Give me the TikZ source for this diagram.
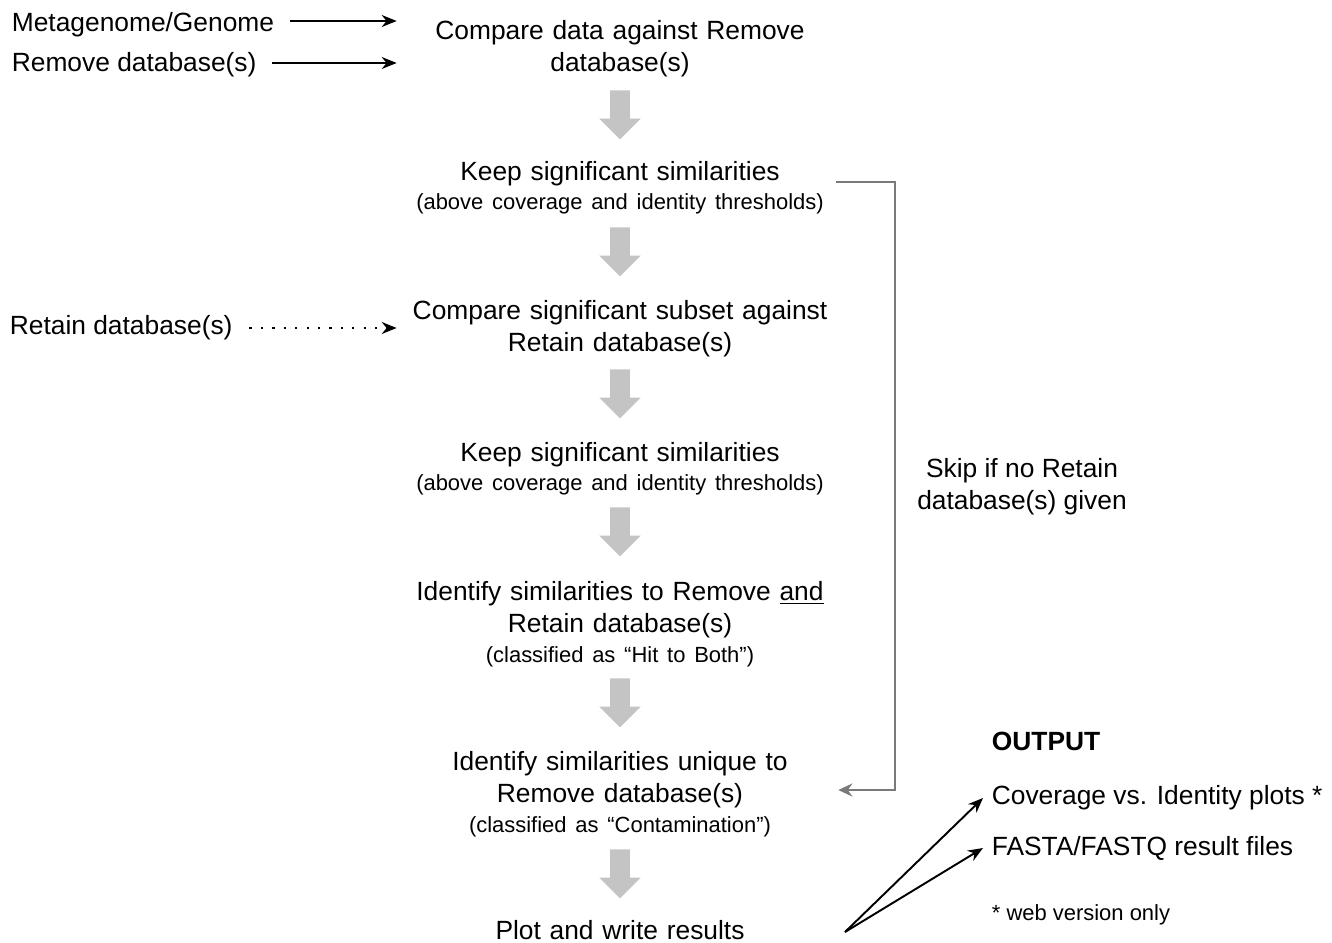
\documentclass[tikz,border=0pt]{standalone}
\usepackage{fontspec}
\setmainfont{Liberation Sans}
\usepackage{tikz}
\usetikzlibrary{arrows.meta, positioning, shapes.arrows}
\definecolor{blockgray}{HTML}{C4C4C4}
\definecolor{skipgray}{HTML}{7A7A7A}
\newcommand{\stepnote}[1]{{\fontsize{12.5}{14}\selectfont #1}}

\begin{document}
\begin{tikzpicture}[
    x=0.02cm, y=-0.02cm,
    stepbox/.style={
      align=center,
      text width=8.78cm,
      inner sep=2pt,
      font=\fontsize{15}{18.2}\selectfont
    },
    label/.style={
      anchor=west,
      inner sep=2pt,
      font=\fontsize{15}{18.2}\selectfont
    },
    flow/.style={
      single arrow,
      shape border rotate=270,
      fill=blockgray,
      draw=none,
      inner sep=0.19cm,
      minimum height=0.98cm,
      single arrow head extend=0.22cm
    },
    arrow/.style={-{Stealth[length=3mm, width=2.4mm]}, line width=1.1pt},
    dotarrow/.style={arrow, dash pattern=on 1.3pt off 5.2pt},
    skip/.style={-{Stealth[length=2.8mm, width=2.6mm]}, line width=1.5pt, draw=skipgray}
  ]
    \useasboundingbox (0,0) rectangle (1332,943);

    \node[stepbox] (compare) at (620,49) {Compare data against Remove\\database(s)};
    \node[flow] (f1) at (620,110) {};
    \node[stepbox] (keep1) at (620,188) {Keep significant similarities\\[-1.7pt]\stepnote{(above coverage and identity thresholds)}};
    \node[flow] (f2) at (620,247) {};
    \node[stepbox] (subset) at (620,329) {Compare significant subset against\\Retain database(s)};
    \node[flow] (f3) at (620,389) {};
    \node[stepbox] (keep2) at (620,469) {Keep significant similarities\\[-1.7pt]\stepnote{(above coverage and identity thresholds)}};
    \node[flow] (f4) at (620,527) {};
    \node[stepbox] (both) at (620,624) {Identify similarities to Remove \underline{and}\\Retain database(s)\\[-1.2pt]\stepnote{(classified as “Hit to Both”)}};
    \node[flow] (f5) at (620,698) {};
    \node[stepbox] (unique) at (620,794) {Identify similarities unique to\\Remove database(s)\\[-1.2pt]\stepnote{(classified as “Contamination”)}};
    \node[flow] (f6) at (620,869) {};
    \node[stepbox] (plot) at (620,930) {Plot and write results};

    \node[label] (meta) at (8,25) {Metagenome/Genome};
    \node[label] (remove) at (8,65) {Remove database(s)};
    \node[label] (retain) at (6,328) {Retain database(s)};

    \draw[arrow] ([xshift=0.24cm, yshift=0.08cm]meta.east) -- ([yshift=0.08cm]meta.east -| compare.west);
    \draw[arrow] ([xshift=0.24cm, yshift=0.04cm]remove.east) -- ([yshift=0.04cm]remove.east -| compare.west);
    \draw[dotarrow] ([xshift=0.26cm]retain.east) -- (retain.east -| subset.west);

    \coordinate (skipcol) at (895,0);
    \node[align=center, font=\fontsize{15}{18.2}\selectfont] (skiptext) at (1022,487) {Skip if no Retain\\database(s) given};
    \draw[skip] ([xshift=-0.14cm, yshift=0.12cm]keep1.east) -- ([yshift=0.12cm]keep1.east -| skipcol) |- ([xshift=-0.1cm, yshift=0.08cm]unique.east);

    \node[label, font=\fontsize{15}{18.2}\selectfont\bfseries] (output) at (988,741) {OUTPUT};
    \node[label] (cov) at (988,798) {Coverage vs. Identity plots *};
    \node[label] (fasta) at (988,848) {FASTA/FASTQ result files};
    \node[label, font=\fontsize{12.5}{14}\selectfont] (web) at (988,915) {* web version only};

    \coordinate (fan) at (845,932);
    \draw[arrow] (fan) -- ([xshift=-0.1cm]cov.west);
    \draw[arrow] (fan) -- ([xshift=-0.1cm]fasta.west);
  \end{tikzpicture}
\end{document}
